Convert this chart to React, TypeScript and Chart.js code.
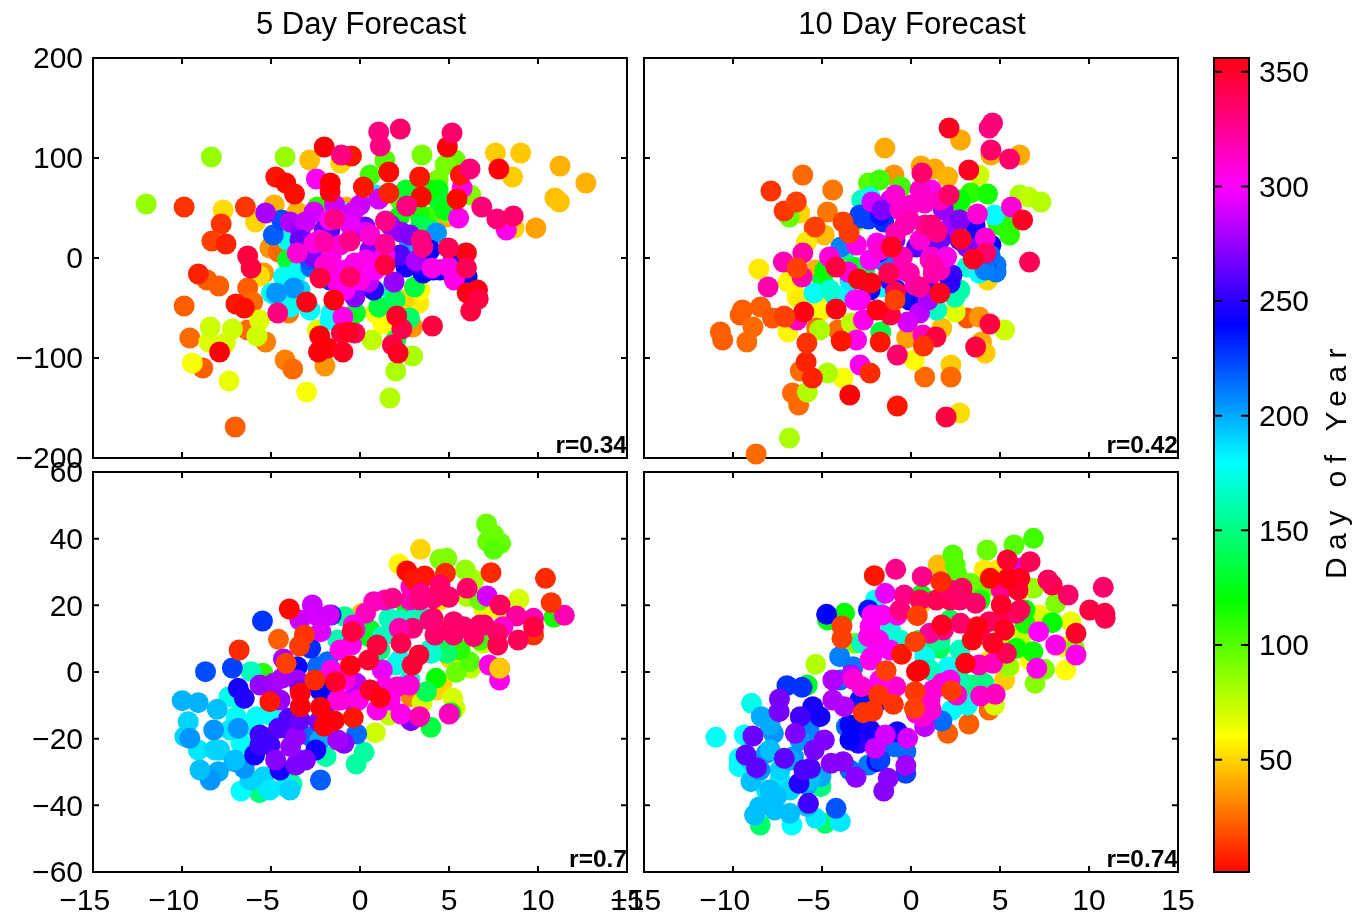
import React, { useEffect, useRef } from "react";
import { Chart, registerables } from "chart.js";

Chart.register(...registerables);

type Row = [number, number, number];

const xTicks = [-15, -10, -5, 0, 5, 10, 15];
const yTicksUpper = [-200, -100, 0, 100, 200];
const yTicksLower = [-60, -40, -20, 0, 20, 40, 60];
const colorbarTicks = [50, 100, 150, 200, 250, 300, 350];
const dayRange: [number, number] = [1, 356];
const titles = ["5 Day Forecast", "10 Day Forecast"];
const correlations = ["r=0.34", "r=0.42", "r=0.7", "r=0.74"];

// each row: x, y, day of year (drawn in this order)
const fiveDayUpper: Row[] = [
[7.61,105,48],[9.03,105,47],[11.24,92,42],[12.69,75,42],[10.95,60,45],[11.2,56,46],[8.57,81,48],[9.88,30,38],[8.66,30,50],[-2.83,98,45],[-1.09,95,50],[-7.69,48,52],[-4.82,53,42],[-5.87,36,50],[-3.53,46,42],[-5.06,10,35],[-4.58,6,25],[-5.41,-15,35],[-5.64,-18,52],[-6.31,-30,22],[-7.93,-28,22],[-8.6,-22,22],[-6.02,-44,25],[-9.88,-48,22],[-9.56,-80,25],[-8.83,-110,22],[-4.21,-102,30],[-3.78,-111,25],[-1.97,-108,35],[-5.3,-84,30],[-6.31,-72,25],[-7.01,-169,22],[-4.01,-55,28],[3.31,-45,55],[2.48,-42,50],[1.29,-66,60],[2.96,-69,35],[0.86,-55,60],[3.37,-32,60],[4.88,41,40],[-0.77,51,40],
[-9.42,-105,62],[-8.49,-84,68],[-7.36,-123,65],[-3,-134,62],[-8.41,-69,72],[-7.17,-71,72],[-7.56,-85,70],[-5.64,-62,68],[-5.79,-78,72],[-2.39,-72,68],[0.67,-82,75],[2.96,-98,80],[2.01,-113,80],[1.68,-140,78],[-12.01,54,85],[-8.35,101,85],[-4.21,101,85],[1.4,98,100],[3.48,103,92],[0.57,83,105],[2.78,65,95],[5.35,98,95],[4.78,93,92],[4.39,78,92],[6.22,63,90],[4.97,45,90],[3.83,41,105],[3.15,48,105],[-2.39,51,110],[2.25,58,100],[3.37,43,115],
[4.39,68,125],[4.39,58,130],[2.58,68,130],[3.42,33,135],[2.2,41,120],[-4.07,-2,130],[3.06,-29,135],[1.05,-49,135],[-0.25,-55,130],[2.01,-82,140],[2.78,-60,145],[1.73,-32,160],[3.93,68,120],[4.78,48,125],[3.93,28,140],[1.97,-42,140],
[0.86,63,185],[-4.3,-19,178],[-3.53,-14,178],[-4.97,-35,172],[-3.92,-49,180],[-1.62,-55,180],[-4.1,18,175],[-0.86,45,175],[-3.37,-32,190],[-4.21,-27,178],[-3.93,-42,175],[-4.78,-37,185],[-2.81,-52,180],[-1.69,-62,180],
[-4.69,-35,205],[-3.73,-30,205],[5.92,5,200],[4.3,25,205],[2.78,15,200],[-2.77,-9,215],[-2.81,-2,220],
[-4.87,23,218],[-4.4,38,222],[4.11,-12,240],[3.54,-15,240],[6.02,-19,240],[5.26,0,240],[2.2,1,250],[2.58,-9,245],[0.77,-32,250],[3.37,-7,250],[4.49,-12,240],[5.34,-17,235],[3.93,8,240],[-1.69,-22,230],[2.25,3,260],
[-5.3,45,280],[-3.92,36,282],[-3.35,28,275],[-2.58,1,270],[-2.01,28,265],[0.29,31,265],[-0.29,-39,272],[1.91,-24,275],[2.3,26,275],[3.15,-3,280],[0.48,-24,285],[1.05,59,290],[0,53,288],[-0.38,46,290],[-2.58,46,290],[-3.06,36,288],[-1.43,53,288],[0.31,26,290],[-1.69,28,260],[-0.56,18,265],[0.56,8,270],[1.69,33,275],[2.81,23,270],[-3.37,18,265],
[-2.45,79,302],[-3.53,5,310],[-2.58,15,308],[-1.62,1,305],[-1.53,-12,305],[-1.25,-25,305],[-0.96,-59,305],[-0.29,-5,305],[0.31,-2,305],[4.97,-9,305],[4.05,-10,305],[5.3,-22,305],[8.22,28,305],[5.54,40,305],[5.74,70,305],[-1.69,38,300],[-0.56,33,295],[-1.12,13,310],[-1.97,-7,310],[-0.84,-12,305],[0,-22,305],[0.84,-12,300],[1.4,3,305],[-2.25,18,305],[-0.84,-32,300],[0.56,23,310],
[-0.48,102,5],[4.91,111,358],[1.62,86,2],[3.35,81,5],[7.8,89,358],[-1.68,66,355],[-1.67,75,0],[0.19,71,5],[1.62,65,8],[3.44,61,2],[5.45,59,2],[5.64,83,5],[5.98,5,355],[6.02,-35,355],[6.6,-32,355],
[-1.43,39,328],[1.43,37,328],[2.62,52,330],[-0.57,17,328],[-2.01,16,320],[1.4,14,325],[3.44,18,330],[3.53,11,330],[-4.62,-55,330],[1.05,126,330],[1.14,112,330],[2.26,129,335],[5.17,125,335],[-2.01,111,358],[-1.05,103,330],[6.18,89,332],[6.84,51,332],[7.69,39,332],[8.61,42,335],[4.97,10,340],[5.98,-10,340],[-6.31,2,345],[-6.12,-10,345],[-2.24,-20,345],[-0.57,-19,335],[1.4,-7,345],[6.64,-41,345],[6.22,-53,345],[4.07,-68,345],[2.35,-71,342],[-0.29,-75,340],[-1.05,-75,345],[1.82,-87,345],
[-9.88,51,12],[-6.44,51,13],[-7.8,34,12],[-8.32,17,15],[-7.53,14,8],[-9.08,-16,8],[-6.97,-46,5],[-6.5,-50,3],[-3,-44,355],[-1.47,-42,357],[-4.73,81,5],[-4.17,75,2],[-3.68,64,3],[2.06,-58,350],[-2.26,-78,358],[-1.82,-90,358],[-2.33,-94,358],[-0.96,-94,352],[-7.89,-94,358],[-0.67,-74,352],[2.14,-95,352],
];

const tenDayUpper: Row[] = [
[-1.47,110,40],[2.78,118,40],[6.11,103,40],[4.49,103,40],[0.57,92,40],[1.34,89,40],[2.06,81,42],[-0.96,83,35],[-6.08,83,25],[-4.4,68,28],[-4.69,46,28],[-5.45,30,22],[-4.87,23,45],[-6.25,45,50],[-8.55,-11,55],[-5.87,16,55],[-5.35,-12,42],[-6.91,-24,58],[4.3,-22,50],[-6.4,-39,58],[-5.01,-52,58],[-6.91,-74,58],[-8.45,-49,22],[-9.6,-57,22],[-9.47,-52,22],[-8.88,-69,25],[-10.71,-74,22],[-10.58,-82,22],[-9.22,-84,25],[-7.78,-60,20],[-7.13,-58,18],[-5.3,-70,25],[-4.1,-72,25],[-0.25,-80,38],[1.73,-70,45],[3.15,-60,20],[3.83,-59,35],[3.96,-84,40],[4.17,-95,48],[2.24,-107,48],[2.24,-119,25],[0.77,-119,25],[0.19,-102,60],[-3.82,-120,62],[2.74,-155,52],[-6.22,-113,25],[-6.66,-135,25],[-6.31,-147,25],[-8.7,-196,25],[2.48,-54,68],[-5.21,-49,62],[-5.1,-42,60],[-6.24,-42,55],
[-6.83,-180,80],[-4.69,-115,80],[-5.82,-134,78],[-5.13,-72,80],[5.26,-72,72],[-3.35,-65,75],[6.11,63,80],[6.6,61,75],[7.3,56,78],[-6.83,41,95],[3.83,83,72],[-3.06,37,85],[-2.39,75,100],[-1.76,78,105],[-0.57,71,105],[3.35,65,110],[4.3,64,115],[2.78,55,100],[4.88,35,110],[5.54,23,110],[5.45,36,110],[2.75,58,120],[5,33,110],
[-4.97,-22,130],[-3.2,-9,130],[-2.58,-10,135],[-1.7,-74,135],[-4.83,-12,120],[-3.7,8,150],
[-2.77,58,165],[-2.3,61,175],[4.69,43,180],[-5.45,-35,180],[-4.21,-40,180],[-3.53,-35,178],[1.45,-52,165],[2.48,-32,165],[2.48,-39,160],[3.15,-9,170],[3.83,-15,180],[-1.62,-29,180],[-0.96,-22,185],[2.19,-22,170],[2.75,-32,160],[-3.43,-22,185],[-4.55,-32,170],
[-3.94,11,210],[-1.25,-9,215],[-1.62,-2,210],[4.78,-7,212],[4.78,-14,212],[4.21,-9,220],[-2.92,40,225],[-2.39,39,225],[-1.53,36,230],[-1.62,11,240],[-1.82,6,240],[-0.09,-42,240],[-0.48,-39,235],[4.11,20,240],[4.49,13,240],[3.63,21,245],[2.3,-17,255],[-0.86,-32,240],[2.2,-25,250],[4.16,-12,210],[4.44,3,215],[-1.74,43,235],[-2.87,43,225],[-1.18,-22,250],[-2.3,-32,240],[1.07,-32,255],[2.75,18,255],[3.6,33,245],
[-2.2,56,290],[-1.15,58,288],[-1.63,48,270],[0.48,-55,285],[-0.19,-64,290],[2.68,38,280],[1.82,48,275],[2.2,31,280],[0.86,18,265],[0.31,11,260],[0.96,-42,280],[3.15,11,270],[1.91,1,285],[1.63,18,265],[2.75,38,270],[-0.9,18,270],
[1.14,68,305],[3.73,44,310],[5.64,51,310],[4.17,20,310],[-3.06,13,305],[-1.91,15,305],[-4.58,1,310],[-3.53,-14,310],[-2.83,-42,305],[-2.68,-62,305],[-3.06,-82,305],[-2.86,-107,305],[0.67,-77,315],[-7.17,-4,318],[-6.08,5,320],[-8.03,-29,320],[-6.12,-19,320],[-6.4,-62,315],[-2.3,-2,300],[-3.15,-42,300],
[-0.62,48,312],[0.51,68,312],[1.63,58,315],[0.51,18,310],[-0.62,-12,305],[-1.74,8,310],[1.07,-2,315],[0.22,-27,315],[1.63,-12,318],[-0.9,63,310],[-0.34,33,320],[0.79,33,325],[1.35,28,328],
[0,53,312],[0.77,55,312],[-0.09,38,318],[-0.86,25,318],[-0.48,1,318],[-0.09,-15,320],[1.14,1,312],[2,1,305],[1.25,-7,320],[1.25,-15,320],[0.48,-29,325],[1.14,33,332],[1.45,26,330],[0.61,85,335],[2.14,63,335],[4.39,130,330],[4.58,135,332],[4.49,108,335],[5.54,99,335],[6.66,-4,340],[4.21,5,335],[-1.25,-15,340],[-0.77,-97,335],[-0.86,-34,340],[-1.15,-57,345],[-4.21,-9,345],[1.4,-79,345],[4.43,-66,345],[3.63,-89,345],[1.97,-159,345],
[3.25,88,352],[2.14,130,352],[6.27,38,352],[2.81,19,350],[3.5,-1,352],[-1.09,11,352],[-2.96,-21,355],[-2.24,-25,355],[1.62,-35,352],[-4.21,-51,355],[-6.02,-54,355],[-1.91,-52,355],[-3.44,-137,358],[-0.77,-148,5],[-5.54,-120,8],[-5.89,-104,8],[-3.92,-83,5],[-1.73,-84,5],[0.7,-88,12],[-2.3,-115,10],[-5.85,-85,12],[-7.87,67,12],[-7.13,47,13],[-6.44,56,15],[-5.39,31,15],[-3.82,36,15],[-3.48,25,14],[-0.9,-42,15],[-7.08,-59,15],[-6.4,-10,15],
];

const fiveDayLower: Row[] = [
[3.4,36.8,50],[2.2,32.4,58],[0.1,17.6,45],[4.61,-3.4,50],[4.3,-5.4,50],[5.06,4.1,50],[2.86,-7.4,30],[7.87,18.6,60],[4.49,21.6,55],
[8.93,21.8,70],[5.22,-7.9,70],[5.35,-10.9,70],[3.49,-9.2,70],[0.86,-18.2,72],[1.62,-12.9,75],[6.22,1.1,75],[6.88,8.6,72],[6.4,27.6,80],[5.92,30.6,85],[4.49,33.8,90],[4.88,34.1,90],[7.11,44.4,95],[7.51,41.1,95],[7.17,39.1,95],[7.91,38.6,95],[7.51,36.8,100],[5.4,-0.1,95],[6.15,3.1,100],[6.02,22.6,80],[6.97,18.6,65],[10.89,16.4,115],[6.74,21.6,95],[6.74,9.6,105],[5.62,6.6,110],
[4.27,-1.9,120],[3.73,-5.9,140],[3.98,-16.6,135],[5.1,-12.2,125],[2.58,17.6,125],[0.48,10.6,125],[4.88,5.6,145],[-5.65,-36.2,150],[-3.82,-33.6,160],[-5.45,-0.4,110],[1.12,6.6,150],[0.56,12.6,130],[4.49,9.6,140],
[-1.91,-25.4,160],[0.23,-24.1,158],[-0.22,-27.6,158],[-6.12,0.1,165],[4.01,5.6,170],[3.27,18.1,170],[1.62,16.1,165],[2.01,2.1,170],[-1.25,9.6,160],[-0.86,16.6,155],[1.25,10.6,165],[-7.36,-7.4,175],[-6.97,-13.4,178],[-5.8,-13.4,180],[-6.69,-35.7,180],[-5.17,-34.9,185],[-4.21,-34.4,185],[-5.41,-31.4,190],[-9.09,-23.4,185],[-9.84,-19.4,190],[-9.65,-14.9,190],[-6.69,-21.4,180],[-7.89,-23.4,190],[2.25,15.6,165],[3.37,15.6,160],[3.93,6.6,170],[2.25,3.6,175],[2.81,-2.4,165],[-8.15,-23.4,190],[-6.18,-32.4,190],[-5.06,-35.4,185],[-3.93,-35.4,190],[-7.3,-17.4,185],[-6.18,-15.9,178],[-5.06,-12.9,180],[-6.74,-8.4,175],
[-9.99,-8.6,198],[-9.09,-9.2,198],[-8.02,-11.2,195],[-8.22,-17.4,205],[-9.56,-19.9,205],[-7.08,-26.9,200],[-7.96,-29.9,200],[-8.41,-32.4,205],[-6.84,-16.9,205],[-6.5,-28.9,205],[-2.77,-19.4,215],[-0.19,-18.6,215],[-1.82,3.1,215],[-2.39,1.6,215],[-7.02,-26.4,195],[-8.99,-29.4,195],[-3.37,-26.4,200],[-2.25,-20.4,200],
[-2.22,-32.4,218],[-8.68,0.1,222],[-7.17,1.2,225],[-5.48,15.3,228],[-2.77,7.1,230],[-1.62,17.1,230],[-3.53,1.6,238],[-6.84,-4.9,245],[-6.5,-7.9,248],[-5.92,-24.9,245],[-4.49,-29.4,245],[-2.48,-23.4,245],[-5.62,-18.9,255],[-5.62,-21.9,255],[-4.58,-16.9,260],[-4.01,-13.9,258],[-2.01,-5.4,240],[-1.69,-8.4,230],[-2.25,-5.4,240],[-5.06,-21.9,255],[-3.93,-17.4,260],
[-3.6,-27.9,270],[-4.74,-26.4,272],[-3.06,-26.4,270],[-3.9,-22.4,275],[-3.61,-19.4,275],[-0.9,-21.4,272],[-1.25,-20.4,278],[-5.62,-3.9,275],[-4.85,-3.4,278],[-4.3,3.9,280],[-4.39,-1.9,280],[-3.53,-2.4,278],[2.86,-14.6,270],[-2.3,-14.9,270],[-3.37,-14.4,265],[-4.49,-8.4,275],[-3.37,-5.4,270],[-1.69,-14.4,280],[-0.56,-8.4,285],
[-2.68,20.1,288],[-3.38,15.6,288],[-2.48,17.1,290],[-1.72,17.1,290],[-2.2,12.1,292],[7.14,22.8,290],[1.25,0.6,295],[-0.19,-3.4,285],[4.97,22.6,290],
[-0.48,8.1,305],[2.3,-12.6,305],[0.96,-11.4,305],[-0.09,-8.4,305],[-1.25,-8.4,308],[1.43,-4.4,305],[2.78,-3.9,310],[2.1,-4.4,310],[-1.62,0.6,305],[7.84,-2.4,305],[7.26,2.1,305],[7.84,1.1,340],[5.01,-12.6,315],[3.35,-13.4,318],[0.31,17.6,315],[0.77,21.1,315],[-0.38,14.1,305],[2.86,25.6,315],[11.48,17,318],[9.75,16.1,318],[8.79,16.8,322],[8.03,13.6,310],[0.56,-5.4,310],[-0.84,-2.4,310],[-1.12,6.6,305],[1.69,-8.4,305],[-1.12,-8.4,308],[-0.28,12.6,312],[2.81,21.6,318],[1.4,21.6,315],
[2.63,30.3,2],[3.63,28.8,5],[4.8,29.6,10],[7.36,29.8,10],[10.42,28.1,10],[10.74,20.8,12],[3.06,27.6,5],[9.75,11.1,12],
[1.82,22.1,328],[3.44,23.6,328],[4.11,22.1,332],[5.0,22.4,335],[6.02,25.1,335],[7.87,20.1,338],[6.97,14.1,335],[7.74,11.6,335],[8.89,9.6,340],[7.74,8.1,340],[5.26,15.1,335],[5.83,13.6,335],[5.26,11.1,335],[6.4,10.6,335],[4.11,16.1,340],[4.21,11.1,335],[2.96,13.1,332],[2.2,13.1,320],[2.3,8.6,342],[-0.44,12.1,345],[0.96,8.1,345],[0.48,3.6,348],[9.75,13.6,345],[3.31,5.1,348],[2.93,2.1,348],[-1.38,-2.9,350],[0.57,-5.4,350],[5.06,12.6,335],[6.74,14.1,335],[3.93,15.6,332],[3.37,21.6,330],[4.49,26.1,335],
[1.14,-7.7,355],[-0.53,1.9,355],[-3.35,-6.4,358],[-3.35,-10.4,358],[-2.22,-10.6,358],[-1.45,-14.6,358],[-2.02,-16.2,358],[-3.97,18.9,2],[-6.79,6.6,10],[-5.06,-8.9,5],[-0.38,-13.7,5],[-2.54,-2.4,10],[-3.12,11.1,12],[-3.4,7.8,14],[-4.15,2.6,15],[-4.58,9.8,22],[7.84,1.1,47],
];

const tenDayLower: Row[] = [
[1.53,32.1,45],[4.11,30.6,55],[4.88,30.6,55],[0.57,20.6,48],[5.26,-2.4,48],[8.7,0.6,60],[8.5,7.6,60],[8.98,15.1,65],[7.17,17.1,65],[4.39,-11.4,25],[3.25,-15.6,22],[2.06,-18.4,22],[5.54,1.6,55],[4.69,-9.9,70],[6.69,3.6,60],[4.44,3.6,55],
[-5.35,2.3,78],[6.97,-3.4,88],[7.51,0.8,90],[9.18,7.1,90],[8.13,20.6,90],[6.88,25.1,85],[6.31,11.6,75],[5.45,1.6,85],[4.27,36.6,95],[5.79,38.1,100],[6.88,40.1,105],[2.35,35.1,100],[2.48,32.1,100],[2.57,29.6,100],[4.11,25.1,95],[3.35,26.6,95],[-3.15,8.6,90],[5,9.6,80],[7.25,15.6,70],[6.12,24.6,75],
[-3.73,17.6,120],[-4.69,15.6,125],[7.93,14.8,120],[6.84,6.1,118],[5.92,7.1,120],[6.4,14.6,115],[6.4,18.6,120],[0.57,23.1,120],[-5.83,-3.9,130],[-8.47,-45.9,145],[-4.82,-45.4,145],[-5.06,-34.4,150],[1.62,7.1,140],[1.05,7.6,145],[3.44,-3.9,150],[4.11,-3.4,150],[-1.05,10.6,160],[3.88,21.6,115],[1.63,9.6,155],[0.51,9.6,150],[2.19,15.6,140],
[-2.77,8.6,165],[-8.96,-9.4,175],[-10.96,-19.6,178],[-9.37,-18.9,180],[-9.66,-25.9,180],[-9.66,-28.4,180],[2.3,-11.4,180],[3.17,-9.9,175],[2.1,1.6,178],[0.77,4.6,178],[-1.15,12.6,170],[-6.69,-45.9,180],[-5.35,-43.9,185],[-3.97,-44.9,185],[-8.13,-35.4,185],[-7.36,-32.4,185],[-2.0,21.6,180],[2.75,6.6,165],[-0.62,9.6,170],[-1.74,9.6,175],[1.07,0.6,165],[2.75,-2.4,160],[-7.36,-29.4,190],[-6.8,-35.4,190],[-9.04,-26.4,190],
[-8.99,-32.9,195],[-8.41,-13.4,200],[-7.73,-18.4,205],[-8.13,-24.4,205],[-8.79,-42.9,195],[-8.51,-40.4,195],[-7.66,-41.4,195],[-6.81,-42.4,195],[-5.82,-40.4,195],[-7.56,-37.4,195],[-5.83,-33.9,200],[-5.06,-31.4,200],[-6.6,-25.4,205],[-5.73,-17.4,210],[-4.01,4.6,210],[-3.25,1.6,212],[-3.63,-16.4,215],[-2.39,-27.9,212],[-0.29,-23.9,215],[1.73,-14.7,215],[-0.96,-22.4,215],[-4.21,-40.9,220],[-7.92,-15.9,200],[-7.92,-23.4,195],[-7.92,-35.4,195],[-6.8,-26.4,200],[-8.48,-29.4,205],[-5.67,-32.4,195],[-6.24,-20.4,205],[-5.67,-14.4,210],[-3.43,-29.4,215],[-3.99,-2.4,215],
[-6.97,-4.1,228],[-6.12,-4.6,228],[-0.29,-30.4,225],[-4.74,17.3,240],[-2.39,18.6,235],[-5.52,-10.4,245],[-5.11,-13.4,245],[-2.68,-16.4,245],[-0.77,-17.9,245],[-2.96,-21.4,250],[-1.91,-26.9,245],[-6.29,-33.4,248],[-6.22,-13.4,255],[-1.74,-26.4,225],[-2.87,-8.4,235],[-3.43,-20.4,240],[-2.3,-17.4,245],[-1.74,-8.4,240],[-3.43,-15.9,240],
[-5.76,-39.4,255],[-6.02,-29.4,258],[-5.65,-28.9,258],[-7.12,-25.9,262],[-9.27,-24.9,262],[-8.68,-28.7,262],[-8.88,-19.2,265],[-6.5,-18.4,270],[-7.41,-11.9,268],[-7.39,-8.1,268],[-5.44,-23.4,268],[-4.87,-20.4,270],[-4.49,-27.4,272],[-3.82,-26.9,272],[-3.09,-31.6,272],[-1.28,-31.9,272],[-1.53,-35.7,272],[-0.29,-28.1,278],
[0.77,-16.4,285],[-0.19,-19.9,290],[-1.44,-18.9,290],[-2.01,-22.9,288],[-4.39,-2.4,282],[-4.39,-8.4,282],[-3.75,-10.4,282],[-3.36,-0.9,285],[-1.44,23.6,295],[6.11,31.1,290],[7.17,12.1,300],
[-2.2,17.1,302],[-0.77,17.1,305],[-1.62,17.1,302],[-2.3,13.6,302],[-2.39,10.6,305],[-1.82,9.6,305],[-2.2,4.6,300],[-2.77,-4.4,310],[-3.25,-2.2,310],[-0.86,-4.4,310],[1.25,-5.4,310],[1.73,-3.4,310],[1.14,-11.4,310],[0.65,-13.4,310],[0.29,-12.4,310],[2.58,-6.9,312],[3.91,-7.2,312],[4.73,-6.7,315],[8.13,8.1,305],[9.27,5.1,305],[7.07,1.1,305],[4.59,2.6,315],[3.83,2.1,318],[-2.3,3.6,305],[-1.74,-2.4,300],[-1.18,6.6,300],[2.19,-2.4,305],[1.07,-8.4,310],
[-0.86,30.8,328],[0.63,28.6,328],[-0.38,23.1,328],[10.8,25.4,335],[8.83,23.1,335],[7.93,26.1,345],[7.69,27.6,338],[10.04,18.6,345],[10.89,17.6,345],[10.91,16.1,342],[1.43,21.6,340],[2.2,21.6,340],[2.87,25.1,338],[2.96,22.1,342],[3.63,20.6,335],[2.78,14.6,335],[1.82,12.6,328],[1.05,11.6,325],[4.39,15.1,340],[5.07,24.6,325],[5.92,17.6,330],[5.36,5.6,340],[6.69,33.1,340],[5.41,33.6,348],[2.75,21.6,335],[3.88,12.6,335],[5,15.6,340],[6.12,18.6,340],[2.19,24.6,335],[-0.62,18.6,330],[0.51,21.6,338],
[6.12,28.1,352],[6.02,24.6,350],[5.07,20.1,350],[5.26,12.6,352],[4.59,8.6,352],[3.44,9.6,355],[3.73,13.6,355],[3.06,2.6,355],[1.73,14.1,352],[9.27,11.6,350],[4.45,28.1,2],[0.48,0.6,358],[0.31,0.1,358],[-0.53,5.3,5],[-2.06,28.9,5],[1.68,27.1,10],[5.45,28.1,355],
[-3.88,13.8,15],[-3.88,10.1,15],[0.35,16.9,15],[0.23,9.1,15],[-1.4,0.4,15],[-1.82,-6.9,12],[-0.99,-9.7,12],[-2.68,-12.2,12],[-2.15,-11.7,12],[0.23,-5.9,13],[0.19,-10.9,15],[2.27,-5.6,14],
];

const FONT = '"Liberation Sans", Arial, sans-serif';
const dayColor = (d: number) => `hsl(${d}, 100%, 50%)`;
const minusLabel = (v: number) => (v < 0 ? `\u2212${-v}` : `${v}`);

function inwardFrame(tickLen: number, afterMarks: boolean, drawText: (c: any) => void) {
  const draw = (chart: any) => {
    const { ctx, chartArea: a, scales } = chart;
    ctx.save();
    ctx.strokeStyle = "#000";
    ctx.lineWidth = 2;
    ctx.strokeRect(a.left, a.top, a.right - a.left, a.bottom - a.top);
    ctx.beginPath();
    if (scales.x.options.display !== false) {
      scales.x.ticks.forEach((t: any) => {
        const p = scales.x.getPixelForValue(t.value);
        ctx.moveTo(p, a.bottom); ctx.lineTo(p, a.bottom - tickLen);
        ctx.moveTo(p, a.top); ctx.lineTo(p, a.top + tickLen);
      });
    }
    scales.y.ticks.forEach((t: any) => {
      const p = scales.y.getPixelForValue(t.value);
      ctx.moveTo(a.left, p); ctx.lineTo(a.left + tickLen, p);
      ctx.moveTo(a.right, p); ctx.lineTo(a.right - tickLen, p);
    });
    ctx.stroke();
    ctx.restore();
  };
  return {
    id: "inwardFrame",
    beforeDatasetsDraw(c: any) { if (!afterMarks) draw(c); },
    afterDatasetsDraw(c: any) { if (afterMarks) draw(c); },
    afterDraw(c: any) { c.ctx.save(); drawText(c); c.ctx.restore(); },
  };
}

function panelConfig(rows: Row[], col: number, row: number, yTicks: number[], note: string) {
  const left = col === 0 ? 93 : 644;
  const right = col === 0 ? 627 : 1178;
  const top = row === 0 ? 58 : 472;
  const bottom = row === 0 ? 458 : 872;
  return {
    type: "scatter",
    data: {
      datasets: [{
        data: rows.map((r) => ({ x: r[0], y: r[1] })),
        backgroundColor: rows.map((r) => dayColor(r[2])),
        pointRadius: 10.5,
        pointBorderWidth: 0,
        clip: false,
      }],
    },
    options: {
      responsive: false,
      animation: false,
      events: [],
      layout: {
        padding: {
          left: col === 0 ? 0 : left,
          right: 1354 - right,
          top,
          bottom: row === 0 ? 917 - bottom : 0,
        },
      },
      plugins: { legend: { display: false }, tooltip: { enabled: false }, title: { display: false } },
      scales: {
        x: {
          type: "linear",
          min: xTicks[0],
          max: xTicks[xTicks.length - 1],
          grid: { display: false, drawTicks: false },
          border: { display: false },
          afterBuildTicks: (s: any) => { s.ticks = xTicks.map((value) => ({ value })); },
          afterFit: (s: any) => { s.height = row === 0 ? 0 : 45; },
          ticks: {
            display: row === 1,
            autoSkip: false,
            maxRotation: 0,
            minRotation: 0,
            padding: 12,
            color: "#000",
            font: { family: FONT, size: 30 },
            // trailing spaces balance the minus sign, so the digits stay centred on the tick
            callback: (v: number) => (v < 0 ? `${minusLabel(v)}  ` : minusLabel(v)),
          },
        },
        y: {
          type: "linear",
          min: yTicks[0],
          max: yTicks[yTicks.length - 1],
          grid: { display: false, drawTicks: false },
          border: { display: false },
          afterBuildTicks: (s: any) => { s.ticks = yTicks.map((value) => ({ value })); },
          afterFit: (s: any) => { s.width = col === 0 ? 93 : 0; },
          ticks: {
            display: col === 0,
            autoSkip: false,
            padding: 10,
            labelOffset: 2,
            color: "#000",
            font: { family: FONT, size: 30 },
            callback: (v: number) => minusLabel(v),
          },
        },
      },
    },
    plugins: [
      inwardFrame(6, false, (c: any) => {
        const { ctx, chartArea: a } = c;
        ctx.fillStyle = "#000";
        ctx.font = `bold 24.5px ${FONT}`;
        ctx.textAlign = "right";
        ctx.textBaseline = "alphabetic";
        ctx.fillText(note, a.right, a.bottom - 5);
        if (row === 0) {
          ctx.font = `31px ${FONT}`;
          ctx.textAlign = "center";
          ctx.textBaseline = "middle";
          ctx.fillText(titles[col], (a.left + a.right) / 2 + 1, 25);
        }
      }),
    ],
  };
}

function colorbarConfig() {
  const [lo, hi] = dayRange;
  return {
    type: "bar",
    data: {
      labels: ["Day of Year"],
      datasets: [{
        data: [[lo, hi]],
        barPercentage: 1,
        categoryPercentage: 1,
        borderWidth: 0,
        backgroundColor: (ctx: any) => {
          const a = ctx.chart.chartArea;
          if (!a) return "#f00";
          const g = ctx.chart.ctx.createLinearGradient(0, a.bottom, 0, a.top);
          [lo, 60, 120, 180, 240, 300, hi].forEach((h) => {
            g.addColorStop((h - lo) / (hi - lo), dayColor(h));
          });
          return g;
        },
      }],
    },
    options: {
      responsive: false,
      animation: false,
      events: [],
      layout: { padding: { left: 1214, right: 0, top: 58, bottom: 917 - 872 } },
      plugins: { legend: { display: false }, tooltip: { enabled: false } },
      scales: {
        x: { display: false, grid: { display: false } },
        y: {
          type: "linear",
          position: "right",
          min: lo,
          max: hi,
          grid: { display: false, drawTicks: false },
          border: { display: false },
          afterBuildTicks: (s: any) => { s.ticks = colorbarTicks.map((value) => ({ value })); },
          afterFit: (s: any) => { s.width = 105; },
          ticks: {
            autoSkip: false,
            crossAlign: "near",
            padding: 10,
            labelOffset: 2,
            color: "#000",
            font: { family: FONT, size: 30 },
          },
        },
      },
    },
    plugins: [
      inwardFrame(8, true, (c: any) => {
        const { ctx } = c;
        ctx.translate(1346, 460);
        ctx.rotate(-Math.PI / 2);
        ctx.fillStyle = "#000";
        ctx.font = `30px ${FONT}`;
        ctx.letterSpacing = "7.5px";
        ctx.textAlign = "center";
        ctx.textBaseline = "alphabetic";
        ctx.fillText("Day of Year", 0, 0);
      }),
    ],
  };
}

export default function App() {
  const refs = useRef<(HTMLCanvasElement | null)[]>([]);
  useEffect(() => {
    const configs = [
      panelConfig(fiveDayUpper, 0, 0, yTicksUpper, correlations[0]),
      panelConfig(tenDayUpper, 1, 0, yTicksUpper, correlations[1]),
      panelConfig(fiveDayLower, 0, 1, yTicksLower, correlations[2]),
      panelConfig(tenDayLower, 1, 1, yTicksLower, correlations[3]),
      colorbarConfig(),
    ];
    const charts = configs.map((cfg, i) => new Chart(refs.current[i] as HTMLCanvasElement, cfg as any));
    return () => charts.forEach((c) => c.destroy());
  }, []);
  return (
    <div style={{ position: "absolute", left: 0, top: 0, width: 1354, height: 917, background: "#fff", overflow: "hidden" }}>
      {[0, 1, 2, 3, 4].map((i) => (
        <canvas
          key={i}
          ref={(el) => { refs.current[i] = el; }}
          width={1354}
          height={917}
          style={{ position: "absolute", left: 0, top: 0, display: "block" }}
        />
      ))}
    </div>
  );
}
